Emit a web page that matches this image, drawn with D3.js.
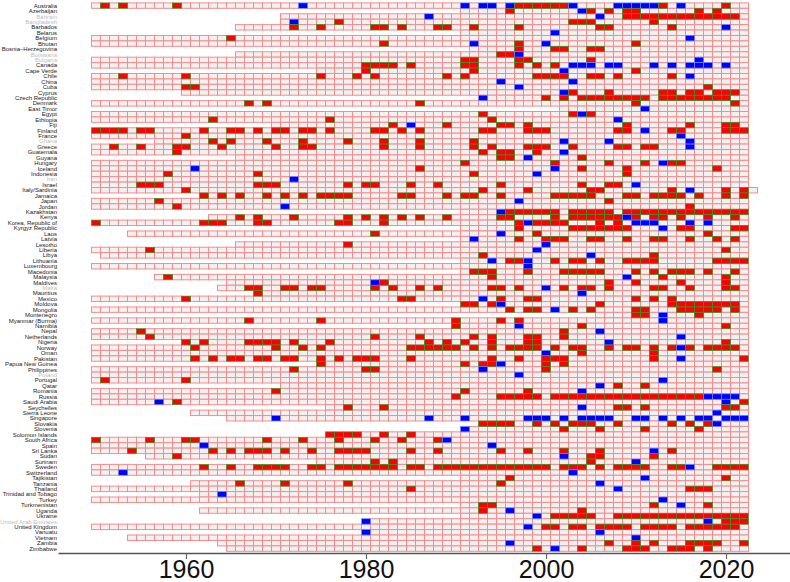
<!DOCTYPE html>
<html>
<head>
<meta charset="utf-8">
<script src="https://cdn.jsdelivr.net/npm/d3@7"></script>
<style>
  body { margin: 0; background: #fff; }
  svg { display: block; font-family: "Liberation Sans", Arial, sans-serif; }
</style>
</head>
<body>
<svg id="chart" width="790" height="582"></svg>
<script>
// rows, top to bottom
const countries = ["Australia","Azerbaijan","Bahrain","Bangladesh","Barbados","Belarus","Belgium","Bhutan",
  "Bosnia\u2013Herzegovina","Botswana","Bulgaria","Canada","Cape Verde","Chile","China","Cuba","Cyprus",
  "Czech Republic","Denmark","East Timor","Egypt","Ethiopia","Fiji","Finland","France","Ghana","Greece",
  "Guatemala","Guyana","Hungary","Iceland","Indonesia","Iran","Israel","Italy/Sardinia","Jamaica","Japan",
  "Jordan","Kazakhstan","Kenya","Korea, Republic of","Kyrgyz Republic","Laos","Latvia","Lesotho","Liberia",
  "Libya","Lithuania","Luxembourg","Macedonia","Malaysia","Maldives","Malta","Mauritius","Mexico","Moldova",
  "Mongolia","Montenegro","Myanmar (Burma)","Namibia","Nepal","Netherlands","Nigeria","Norway","Oman",
  "Pakistan","Papua New Guinea","Philippines","Poland","Portugal","Qatar","Romania","Russia","Saudi Arabia",
  "Seychelles","Sierra Leone","Singapore","Slovakia","Slovenia","Solomon Islands","South Africa","Spain",
  "Sri Lanka","Sudan","Surinam","Sweden","Switzerland","Tajikistan","Tanzania","Thailand",
  "Trinidad and Tobago","Turkey","Turkmenistan","Uganda","Ukraine","United Arab Emirates","United Kingdom",
  "Vanuatu","Vietnam","Zambia","Zimbabwe"];

// labels printed in light grey
const greyed = ["Bahrain","Bangladesh","Botswana","Bulgaria","Ghana","Iran","Malta","Poland","United Arab Emirates"];

// first year with a cell, same order as countries
const startYear = [1950,1991,1971,1971,1966,1991,1950,1950,1992,1966,1950,1950,1975,1950,1950,1950,1960,
  1993,1950,2002,1950,1950,1970,1950,1950,1957,1950,1950,1966,1950,1950,1950,1950,1950,1950,1962,1950,
  1950,1991,1963,1950,1991,1954,1991,1966,1950,1951,1991,1950,1991,1957,1965,1964,1968,1950,1991,
  1950,2006,1950,1990,1950,1950,1960,1950,1950,1950,1975,1950,1950,1950,1971,1950,1950,1950,
  1976,1961,1965,1993,1991,1976,1950,1950,1950,1956,1975,1950,1950,1991,1961,1950,
  1962,1950,1991,1962,1991,1980,1950,1980,1954,1964,1965];

const lastYear = 2022;
const longerRows = [["Italy/Sardinia", 2023]];

// years drawn red, same order as countries
const redYears = [
  [1951,1953,1959,1997,1998,1999,2000,2001,2002,2013,2020],            // Australia
  [1996,2005,2007,2009,2010,2017,2019],                                 // Azerbaijan
  [2009,2010,2011,2012,2013,2014,2015,2016,2017,2018,2019,2020,2021],   // Bahrain
  [1977,2003,2004,2005,2012],                                           // Bangladesh
  [1972,1975,1981,1982,1984,1988,1989,1992,1997,2006,2007,2014],        // Barbados
  [],                                                                   // Belarus
  [1965],                                                               // Belgium
  [1982,1997,2010],                                                     // Bhutan
  [1997,2001,2002,2005,2006],                                           // Bosnia
  [1995,1996],                                                          // Botswana
  [1991,1992,1997,1998,2005],                                           // Bulgaria
  [1980,1981,1982,1983,1985,1991,1992,1997,1999,2001],                  // Canada
  [1980,1992,2010],                                                     // Cape Verde
  [1953,1960,1975,1979,1981,1989,1991,1999,2000,2001,2002,2005,2006,2008,2014], // Chile
  [],                                                                   // China
  [1960,1961,2018],                                                     // Cuba
  [2003,2007,2013,2014,2016,2017,2019,2020,2021],                       // Cyprus
  [2000,2002,2004,2005,2006,2007,2008,2009,2010,2011,2013,2014,2015,2016,2017,2018,2019,2020], // Czech
  [1967,1969,1986,2010,2021],                                           // Denmark
  [],                                                                   // East Timor
  [1993,2003,2005],                                                     // Egypt
  [1963,1976,1994],                                                     // Ethiopia
  [1983,1989,1995,1996,1998,2009,2016,2020,2021],                       // Fiji
  [1950,1951,1952,1953,1955,1956,1962,1965,1966,1968,1970,1971,1973,1974,1976,1981,1982,1984,1986,
   1993,1994,1998,1999,2000,2008,2009,2014,2015,2020,2021,2022],        // Finland
  [1960],                                                               // France
  [1963,1965,1969,1973,1978,1982,1986,1992],                            // Ghana
  [1952,1955,1959,1960,1964,1970,1973,1974,1982,1986,1992,1994,1998,1999,2000,2003,2008,2009,2011,2012], // Greece
  [1959,1993,1995,1996,1999],                                           // Guatemala
  [1995,1996,2004],                                                     // Guyana
  [1991,2001,2007,2011,2014,2015],                                      // Hungary
  [1986,2004,2009,2019],                                                // Iceland
  [1958,1968,1992,2009],                                                // Indonesia
  [],                                                                   // Iran
  [1955,1956,1957,1968,1969,1970,1978,1980,1981,1985,1988,1995,2004,2007,2008], // Israel
  [1960,1993,1998,2005,2006,2014,2020,2022],                            // Italy
  [1962,1964,1966,1969,1971,1973,1975,1976,1977,1978,1984,1985,1989,1991,1992,1995,2001,2002,2003,
   2004,2005,2009,2010,2012,2013,2014,2015,2017,2020,2022],             // Jamaica
  [1957,2007],                                                          // Japan
  [1959,2016],                                                          // Jordan
  [1996,1997,1998,1999,2000,2001,2003,2004,2005,2006,2007,2009,2010,2011,2012,2013,2014,2015,2016,
   2017,2018,2019,2020,2021,2022],                                      // Kazakhstan
  [1966,1968,1972,1978,1980,1982,1984,1986,1989,1995,1996,2001,2003,2004,2005,2006,2007,2008,2010,
   2012,2013,2015,2018,2021],                                           // Kenya
  [1950,1962,1963,1964,1968,1969,1977,1978,1982,1997,1999,2000,2001,2002,2006,2008], // Korea
  [1997,2003,2004,2005,2006,2007,2008,2009,2015,2016,2021,2022],        // Kyrgyz
  [1981,1999,2018],                                                     // Laos
  [1997,2000,2001,2002,2005,2006,2009,2012,2013,2016,2019,2021],        // Latvia
  [1978],                                                               // Lesotho
  [1956,2020],                                                          // Liberia
  [1993,2012],                                                          // Libya
  [1996,1997,2001,2003,2004,2006,2009,2010,2011,2012,2019,2020,2021,2022], // Lithuania
  [],                                                                   // Luxembourg
  [1992,1993,1994,1998,2002,2003,2004,2005,2006,2010,2012,2014,2015,2016,2018,2021], // Macedonia
  [1958,1994,2013,2020],                                                // Malaysia
  [1982,2007,2010,2015,2020],                                           // Maldives
  [1967,1968,1971,1972,1974,1975,1981,1983,1986,1988,1994,1995,1997,2002,2004,2005,2007,2012,2013,
   2016,2020,2021],                                                     // Malta
  [1968],                                                               // Mauritius
  [1960,1984,1985,1995,1998,1999,2010,2012,2014],                       // Mexico
  [1991,1992,1994,2006,2014,2015,2016,2017,2018,2019,2020,2021],        // Moldova
  [1996,1998,1999,2003,2005,2010,2011,2015,2016,2017,2018,2019,2021],   // Mongolia
  [2010,2011,2017],                                                     // Montenegro
  [1967,1975,1990,1995,1997],                                           // Myanmar
  [1990,2004,2020],                                                     // Namibia
  [1955,2002],                                                          // Nepal
  [1956,1981,1986,1992,1994,1998,1999,2002],                            // Netherlands
  [1960,1962,1967,1968,1969,1970,1972,1976,1987,1989,1991,1994,1998,1999,2020], // Nigeria
  [1961,1970,1973,1975,1985,1986,1987,1988,1989,1990,1992,1994,1996,1997,1998,1999,2001,2003,2004,
   2007,2009,2010,2012,2014,2016,2018,2019,2020,2021],                  // Norway
  [2004,2012],                                                          // Oman
  [1961,1963,1965,1966,1968,1969,1971,1972,1975,1977,1979,1980,1981,1985,1994,1997,2000,2001,2002,
   2012,2022],                                                          // Pakistan
  [1975,1991,1993,1994,2000,2002],                                      // Papua New Guinea
  [1972,1980,1981,2000,2019],                                           // Philippines
  [],                                                                   // Poland
  [1951,1960],                                                          // Portugal
  [2008,2011],                                                          // Qatar
  [1970,1991,1998],                                                     // Romania
  [1990,1995,1996,1997,1998,1999,2001,2002,2003,2004,2005,2006,2007,2008,2009,2010,2011,2012,2013,
   2014,2015,2016,2017],                                                // Russia
  [1959,2022],                                                          // Saudi Arabia
  [1978,1982,2008,2009,2011,2020,2021],                                 // Seychelles
  [],                                                                   // Sierra Leone
  [],                                                                   // Singapore
  [1993,1994,1995,1996,1999,2001,2003,2004,2005,2008,2014,2016,2018],   // Slovakia
  [2002,2006,2011,2017],                                                // Slovenia
  [1976,1977,1978,1979,1982,1985],                                      // Solomon Islands
  [1950,1956,1960,1961,1969,1973,1977,1981,1984,1988],                  // South Africa
  [],                                                                   // Spain
  [1954,1963,1965,1967,1968,1969,1971,1974,1977,1978,1979,1980,1985,1988,1995,1998,2002,2006,2014], // Sri Lanka
  [1959,2005,2006,2012],                                                // Sudan
  [1981,1983,2005],                                                     // Surinam
  [1962,1965,1968,1969,1970,1971,1974,1975,1977,1978,1979,1980,1981,1982,1983,1985,1986,1988,1989,
   1990,1991,1992,1993,1994,1995,1996,1997,1998,1999,2000,2002,2003,2004,2006,2008,2009,2010,2011,
   2014,2015,2019,2020,2021,2022],                                      // Sweden
  [],                                                                   // Switzerland
  [1996,2020],                                                          // Tajikistan
  [1966,1971,1978,1995],                                                // Tanzania
  [1985,2016,2017,2018],                                                // Thailand
  [],                                                                   // Trinidad and Tobago
  [],                                                                   // Turkey
  [1993,1994,2012,2018],                                                // Turkmenistan
  [1993,2004],                                                          // Uganda
  [2001,2002,2003,2004,2005,2008,2009,2010,2011,2012,2013,2014,2015,2016,2017,2018,2019,2020,2021,2022], // Ukraine
  [2020,2021,2022],                                                     // UAE
  [2000,2001,2003,2004,2006,2007,2008,2009,2011,2012,2013,2014,2016,2017,2018,2019,2020,2021], // UK
  [],                                                                   // Vanuatu
  [],                                                                   // Vietnam
  [2007,2010,2012,2016,2017,2018,2019,2022],                            // Zambia
  [1999,2004,2009,2010,2011,2014,2015,2016,2018]                        // Zimbabwe
];

// years drawn blue, same order as countries
const blueYears = [
  [1973,1991,1993,1994,1996,2003,2008,2009,2010,2011,2012,2015],  // Australia
  [2004],[1987,2006],[1972],[2020],[2001],[2016],[1992,2000],[],[1997],[2017],
  [2003,2004,2005,2007,2008,2012,2014,2016,2017,2018,2020],        // Canada
  [2002],[2016],[1995,2003],[1997],[2002],[1993],[],[2011],[2004],[2008],[1985],[2011],[2015],
  [2002,2007,2016],[2016],[2002],[1998],[2013],[1961,2001],[1999],[1972],[2010],[2016],[],
  [1997],[1971],[1995],[2009],[1998,2010,2011,2012,2016,2018],[2013],[1995],[1992],[2000],[1999],
  [2005],[1994,1998],[1998],[],[2009],[1981],[2000],[2004],[1993],[1995],[2001],[2013],[2013],
  [1997],[2006],[2015],[2007],[2015],[2000],[2015],[1995],[1993],[1997],[2013],[2006],[2004],
  [2018,2019,2020,2021],[1957,2020],[2004],[2019],
  [1970,1987,1991,1998,1999,2000,2002,2004,2005,2006,2007,2010,2011,2013,2015,2017,2018,2020,2021,2022], // Singapore
  [2019],[1991],[],[1989],[1962,1994],[2012],[2002],[2010],[2016],[1953,2003],[2011],[2006],[2008],
  [1964],[2013],[2015],[1996],[1999],[1980,2018],[1998],[1980,2006],[2010],[1996],[2001]
];

const svg = d3.select("#chart");
svg.append("rect").attr("width", 790).attr("height", 582).attr("fill", "#fff");

const x = d3.scaleLinear().domain([1945.78, 2027.11]).range([58, 790]);
const y = d3.scaleBand().domain(countries).range([2.9, 551.3]);
const cellW = x(1961) - x(1960);

// one record per cell
let cells = [];
countries.forEach((c, i) => {
  let end = lastYear;
  longerRows.forEach(r => { if (r[0] === c) end = r[1]; });
  for (let yr = startYear[i]; yr <= end; yr++) {
    let kind = "none";
    if (redYears[i].includes(yr)) kind = "red";
    if (blueYears[i].includes(yr)) kind = "blue";
    cells.push({ country: c, year: yr, kind: kind });
  }
});

const fill = { none: "#f1f1f1", red: "#ff0000", blue: "#0000ff" };
const edge = { none: "#f78c8c", red: "#2a9a2a", blue: "#6a8cff" };

let grid = svg.append("g").attr("class", "grid");

// plain cells first, coloured ones on top so their border shows
grid.selectAll("rect.plain")
  .data(cells.filter(d => d.kind === "none"))
  .enter().append("rect")
  .attr("class", "plain")
  .attr("x", d => x(d.year - 0.5))
  .attr("y", d => y(d.country))
  .attr("width", cellW)
  .attr("height", y.bandwidth())
  .attr("fill", fill.none)
  .attr("stroke", edge.none)
  .attr("stroke-width", 1);

grid.selectAll("rect.mark")
  .data(cells.filter(d => d.kind !== "none"))
  .enter().append("rect")
  .attr("class", "mark")
  .attr("x", d => x(d.year - 0.5))
  .attr("y", d => y(d.country))
  .attr("width", cellW)
  .attr("height", y.bandwidth())
  .attr("fill", d => fill[d.kind])
  .attr("stroke", d => edge[d.kind])
  .attr("stroke-width", 0.7);

// country names
svg.append("g")
  .selectAll("text")
  .data(countries)
  .enter().append("text")
  .attr("x", 57)
  .attr("y", d => y(d) + y.bandwidth() / 2)
  .attr("dy", "0.35em")
  .attr("text-anchor", "end")
  .attr("font-size", "6px")
  .attr("fill", d => greyed.includes(d) ? "#bdbdbd" : "#222")
  .text(d => d);

// year axis
let axis = svg.append("g")
  .attr("transform", "translate(0,553)")
  .call(d3.axisBottom(x)
    .tickValues([1960, 1980, 2000, 2020])
    .tickFormat(d3.format("d"))
    .tickSizeInner(6)
    .tickSizeOuter(0));

axis.select(".domain").attr("stroke", "#555").attr("stroke-width", 1.5);
axis.selectAll(".tick line").attr("stroke", "#666").attr("stroke-width", 1.2);
axis.selectAll(".tick text")
  .attr("font-size", "25px")
  .attr("font-family", "'Liberation Sans', Arial, sans-serif")
  .attr("fill", "#111")
  .attr("dy", 0)
  .attr("y", 25);
</script>
</body>
</html>
